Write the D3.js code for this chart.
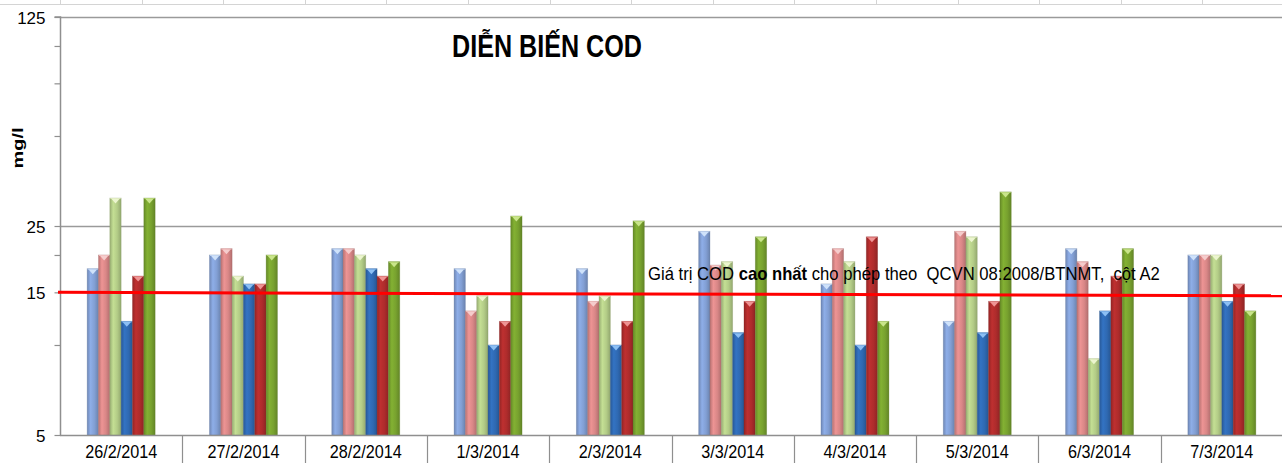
<!DOCTYPE html>
<html><head><meta charset="utf-8">
<script src="https://cdn.jsdelivr.net/npm/d3@7"></script>
<style>body{margin:0;background:#fff;overflow:hidden}svg{display:block}</style>
</head><body><svg id="c" width="1282" height="463"></svg>
<script>
// ---- data ----
const categories = ["26/2/2014","27/2/2014","28/2/2014","1/3/2014","2/3/2014","3/3/2014","4/3/2014","5/3/2014","6/3/2014","7/3/2014"];
const seriesNames = ["S1","S2","S3","S4","S5","S6"];
const s1 = [18, 20, 21, 18, 18, 24, 16, 12, 21, 20];
const s2 = [20, 21, 21, 13, 14, 18.5, 21, 24, 19, 20];
const s3 = [31, 17, 20, 14.6, 14.6, 19, 19, 23, 9, 20];
const s4 = [12, 16, 18, 10, 10, 11, 10, 11, 13, 14];
const s5 = [17, 16, 17, 12, 12, 14, 23, 14, 17, 16];
const s6 = [31, 20, 19, 27, 26, 23, 12, 32.5, 21, 13];
const yTickValues = [5, 10, 15, 20, 25, 50, 75, 100, 125];
const yTickLabels = [5, 15, 25, 125];
const gridValues = [25, 125];
const limitStart = 15, limitEnd = 14.6;
const titleText = "DIỄN BIẾN COD";
const yAxisTitle = "mg/l";
const noteParts = [["Giá trị COD ", false], ["cao nhất", true], [" cho phép theo  QCVN 08:2008/BTNMT,  cột A2", false]];

// ---- styles ----
const baseColors = ["#829fd4", "#d98787", "#b3cc87", "#2f69b2", "#ae2c2c", "#78a22f"];
const capColors  = ["#cfe2fa", "#f5cccc", "#ecf5cf", "#8cbff4", "#ef9494", "#c9e58a"];
const FONT = "'Liberation Sans', Arial, sans-serif";

const series = [s1, s2, s3, s4, s5, s6];
const W = 1282, H = 463;
const L = 60, R = 1283, T = 17, B = 435;
const svg = d3.select("#c");
const defs = svg.append("defs");

baseColors.forEach((c, i) => {
  const g = defs.append("linearGradient").attr("id", "g" + i).attr("x1", 0).attr("x2", 1).attr("y1", 0).attr("y2", 0);
  const base = d3.color(c);
  g.append("stop").attr("offset", "0%").attr("stop-color", base.darker(0.45));
  g.append("stop").attr("offset", "30%").attr("stop-color", base.brighter(0.25));
  g.append("stop").attr("offset", "65%").attr("stop-color", base);
  g.append("stop").attr("offset", "100%").attr("stop-color", base.darker(0.55));
});

// spreadsheet cell lines peeking above chart
const cellStep = 81.6;
svg.append("line").attr("x1", 0).attr("x2", W).attr("y1", 4.5).attr("y2", 4.5).attr("stroke", "#d4d4d4").attr("stroke-width", 1);
d3.range(L, W, cellStep).forEach(xx => {
  svg.append("line").attr("x1", Math.round(xx) + 0.5).attr("x2", Math.round(xx) + 0.5).attr("y1", 0).attr("y2", 4.5).attr("stroke", "#d4d4d4");
});

const x = d3.scaleBand().domain(categories).range([L, R]).padding(0);
const groupW = x.bandwidth() * 0.556;
const xi = d3.scaleBand().domain(seriesNames).range([0, groupW]).padding(0);
const y = d3.scaleLog().domain([5, 125]).range([B, T]);

// gridlines
svg.append("g").selectAll("line").data(gridValues).join("line")
  .attr("x1", L).attr("x2", W).attr("y1", d => Math.round(y(d)) + 0.5).attr("y2", d => Math.round(y(d)) + 0.5)
  .attr("stroke", "#9a9a9a").attr("stroke-width", 1.5);

// bars
const barsG = svg.append("g");
categories.forEach((cat, ci) => {
  series.forEach((arr, si) => {
    const v = arr[ci];
    const bx = x(cat) + (x.bandwidth() - groupW) / 2 + xi(seriesNames[si]);
    const bw = xi.bandwidth();
    const by = y(v);
    barsG.append("rect").attr("x", bx).attr("y", by).attr("width", bw).attr("height", B - by)
      .attr("fill", `url(#g${si})`).attr("stroke", d3.color(baseColors[si]).darker(0.8)).attr("stroke-opacity", 0.35).attr("stroke-width", 0.8);
    barsG.append("path")
      .attr("d", `M${bx + 1.5},${by + 0.8}L${bx + bw - 1.5},${by + 0.8}L${bx + bw / 2},${by + 5.5}Z`)
      .attr("fill", capColors[si]);
    barsG.append("line").attr("x1", bx + 0.5).attr("x2", bx + bw - 0.5).attr("y1", by + 0.5).attr("y2", by + 0.5)
      .attr("stroke", capColors[si]).attr("stroke-width", 1).attr("opacity", 0.8);
  });
});

// y axis
const yAxis = d3.axisLeft(y).tickValues(yTickValues).tickSize(6).tickPadding(9)
  .tickFormat(d => yTickLabels.includes(d) ? String(d) : "");
const ya = svg.append("g").attr("transform", `translate(${L + 0.5},0)`).call(yAxis);
ya.select(".domain").attr("stroke", "#8f8f8f").attr("stroke-width", 1.5).attr("d", `M-6,${T}H0V${B}`);
ya.selectAll(".tick line").attr("stroke", "#8f8f8f").attr("stroke-width", 1.2);
ya.selectAll(".tick text").attr("font-family", FONT).attr("font-size", 17).attr("fill", "#000").attr("dy", "0.38em");

// x axis
svg.append("line").attr("x1", L).attr("x2", W).attr("y1", B + 0.5).attr("y2", B + 0.5).attr("stroke", "#8f8f8f").attr("stroke-width", 1.5);
svg.append("g").selectAll("line").data(categories.slice(1)).join("line")
  .attr("x1", d => Math.round(x(d)) + 0.5).attr("x2", d => Math.round(x(d)) + 0.5)
  .attr("y1", B).attr("y2", H).attr("stroke", "#8f8f8f").attr("stroke-width", 1.2);
const xl = svg.append("g").selectAll("g").data(categories).join("g");
xl.append("text").attr("text-anchor", "middle").attr("font-family", FONT).attr("font-size", 18).attr("fill", "#000")
  .text(d => d);
xl.attr("transform", d => `translate(${x(d) + x.bandwidth() / 2},458) scale(0.9,1)`);

// red limit line
svg.append("line").attr("x1", 58).attr("x2", W).attr("y1", y(limitStart)).attr("y2", y(limitEnd))
  .attr("stroke", "#ff0000").attr("stroke-width", 3);

// title
const tg = svg.append("g");
const tt = tg.append("text").attr("font-family", FONT).attr("font-weight", "bold").attr("font-size", 31).attr("fill", "#000").text(titleText);
const tw = tt.node().getComputedTextLength();
tg.attr("transform", `translate(452,57) scale(${190 / tw},1)`);

// note
const ng = svg.append("g");
const nt = ng.append("text").attr("font-family", FONT).attr("font-size", 17.5).attr("fill", "#000").style("white-space", "pre");
noteParts.forEach(([t, b]) => nt.append("tspan").attr("font-weight", b ? "bold" : "normal").text(t));
const nw = nt.node().getComputedTextLength();
ng.attr("transform", `translate(648,280) scale(${512 / nw},1)`);

// y-axis title
const yg = svg.append("g");
const yt = yg.append("text").attr("font-family", FONT).attr("font-weight", "bold").attr("font-size", 15).attr("text-anchor", "middle").attr("fill", "#000").text(yAxisTitle);
const yw = yt.node().getComputedTextLength();
yg.attr("transform", `translate(23,148) rotate(-90) scale(${41 / yw},1)`);
</script></body></html>
